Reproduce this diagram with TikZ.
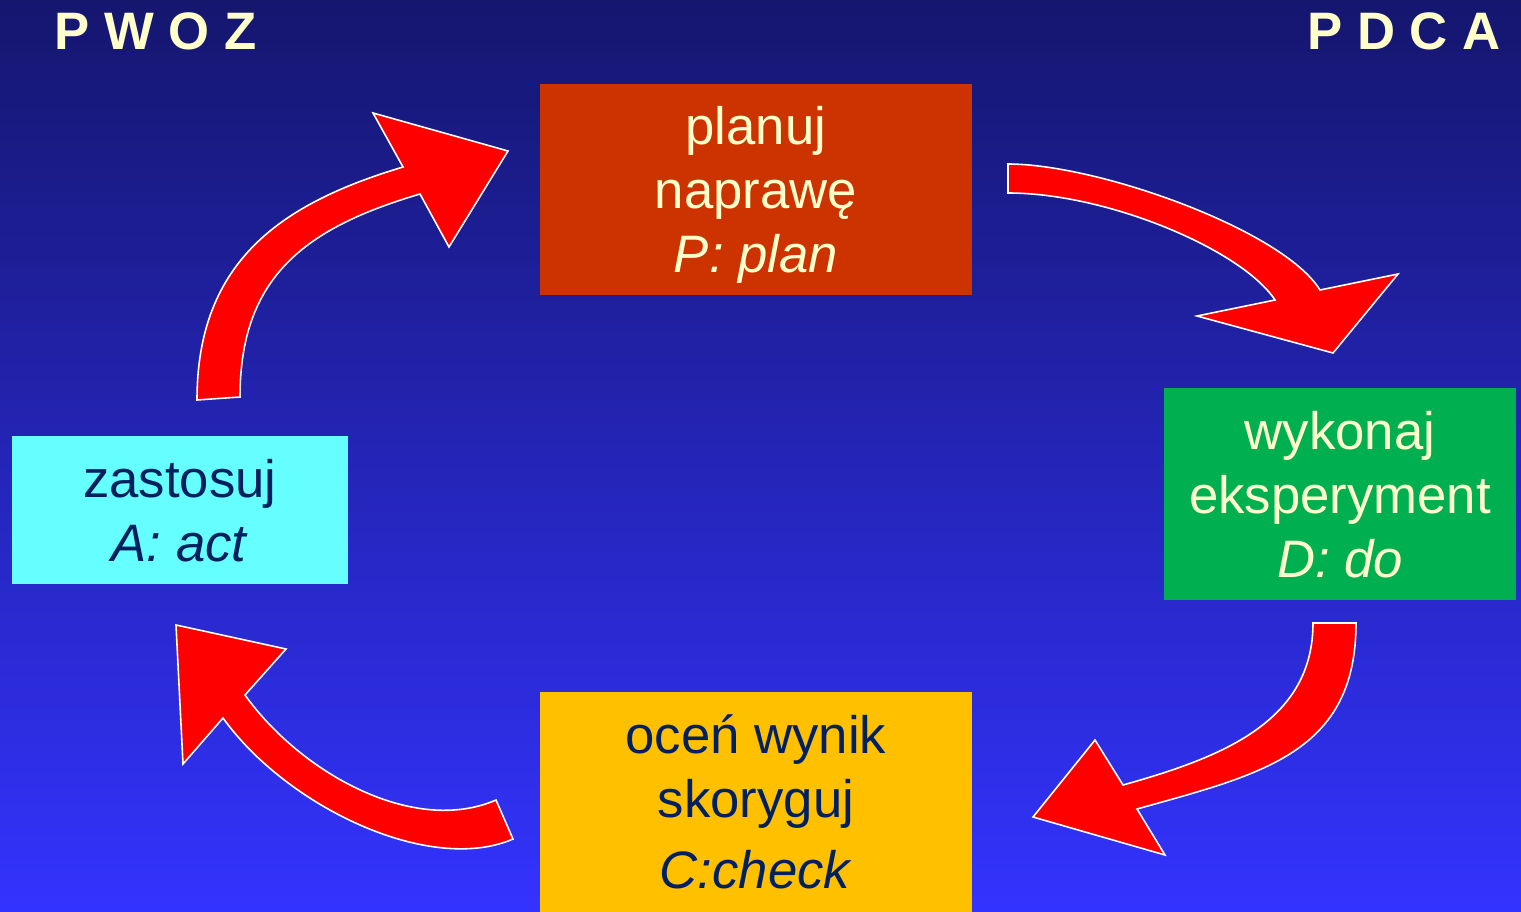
\documentclass[tikz,border=0pt]{standalone}
\usepackage{fontspec}
\setmainfont{Liberation Sans}
\definecolor{navytop}{RGB}{21,22,110}
\definecolor{bluebottom}{RGB}{51,51,255}
\definecolor{cream}{RGB}{255,255,204}
\definecolor{inkblue}{RGB}{0,32,96}
\definecolor{planred}{RGB}{204,51,0}
\definecolor{dogreen}{RGB}{0,176,80}
\definecolor{checkgold}{RGB}{255,192,0}
\definecolor{actcyan}{RGB}{102,255,255}

\begin{document}
\begin{tikzpicture}[x=0.02cm, y=-0.02cm,
    box/.style={inner sep=0pt, align=center, text depth=0pt, font=\fontsize{30}{36.4}\selectfont},
    title/.style={inner sep=0pt, text=cream, font=\fontsize{30}{36}\selectfont\bfseries},
    bigarrow/.style={fill=red, draw=white, line width=0.9pt, line join=miter}]
  \useasboundingbox (0,0) rectangle (1521,912);
  \fill[top color=navytop, bottom color=bluebottom] (0,0) rectangle (1521,912);
  % the four steps of the cycle
  \node[box, fill=planred, text=cream, minimum width=8.64cm, minimum height=4.22cm] (plan) at (756,189.5) {planuj\\naprawę\\\textit{P: plan}};
  \node[box, fill=dogreen, text=cream, minimum width=7.04cm, minimum height=4.24cm] (do) at (1340,494) {wykonaj\\eksperyment\\\textit{D: do}};
  \node[box, fill=checkgold, text=inkblue, minimum width=8.64cm, minimum height=4.4cm] (check) at (756,802) {oceń wynik\\skoryguj\\[4pt]\textit{C:check}};
  \node[box, fill=actcyan, text=inkblue, minimum width=6.72cm, minimum height=2.96cm] (act) at (180,510) {zastosuj\\\textit{A: act}};
  \node[title, anchor=base west] (pwoz) at (54,50) {P W O Z};
  \node[title, anchor=base east] (pdca) at (1501,50) {P D C A};
  % block arrows between the steps
  \draw[bigarrow] (197,400) .. controls (197,260) and (283,203) .. (403,167) -- (373,113) -- (508,151) -- (449,247) -- (420,194) .. controls (305,228) and (240,277) .. (240,397) -- cycle;
  \draw[bigarrow] (1008,164) .. controls (1098,164) and (1283,230) .. (1320,290) -- (1398,274) -- (1333,353) -- (1197,316) -- (1275,300) .. controls (1242,250) and (1108,193) .. (1008,193) -- cycle;
  \draw[bigarrow] (1356,623) .. controls (1356,753) and (1262,774) .. (1137,809) -- (1165,855) -- (1033,817) -- (1095,740) -- (1123,785) .. controls (1219,758) and (1313,723) .. (1313,623) -- cycle;
  \draw[bigarrow] (513,839) .. controls (430,875) and (287,807) .. (223,718) -- (183,764) -- (176,625) -- (286,649) -- (245,695) .. controls (300,772) and (413,836) .. (496,800) -- cycle;
\end{tikzpicture}
\end{document}
